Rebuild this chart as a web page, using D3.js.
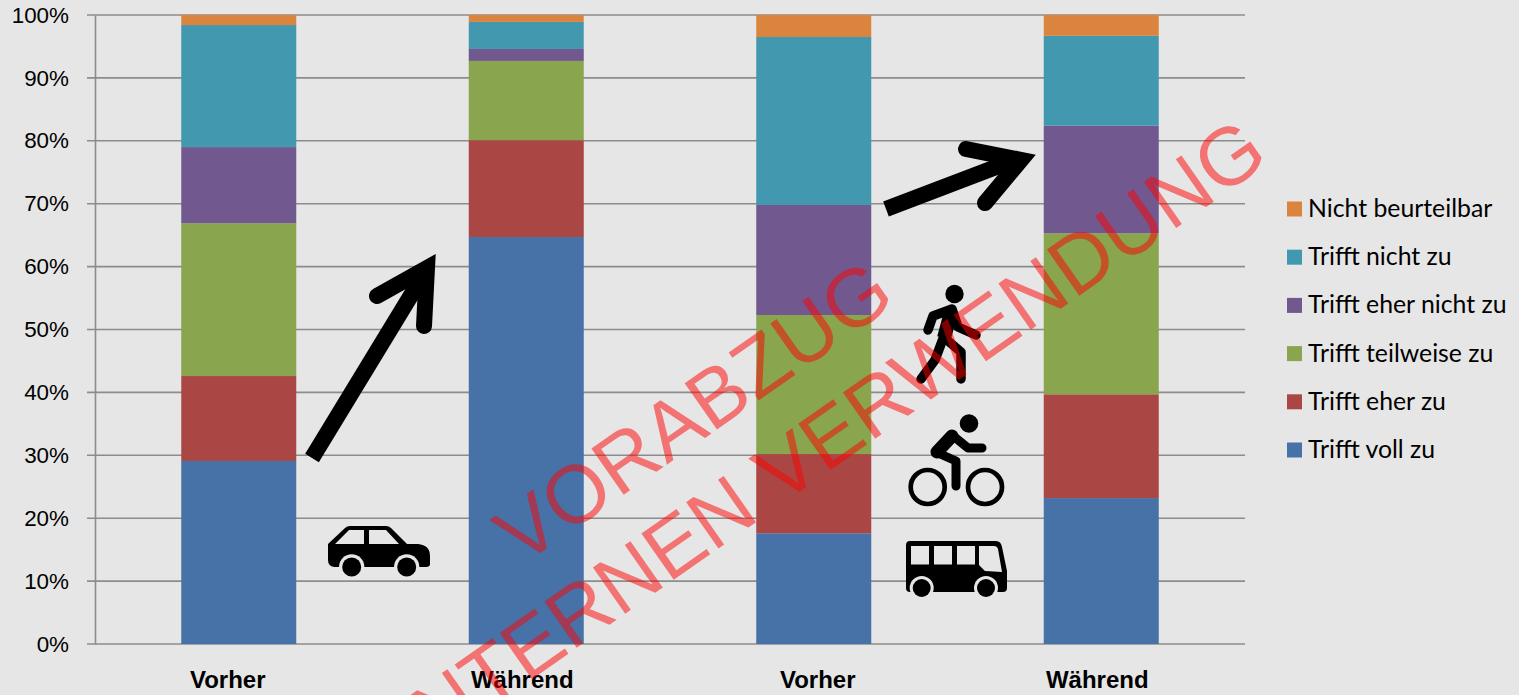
<!DOCTYPE html>
<html>
<head>
<meta charset="utf-8">
<script src="https://cdn.jsdelivr.net/npm/d3@7"></script>
<style>
html, body { margin: 0; padding: 0; background: #e6e6e6; overflow: hidden; }
svg { display: block; }
</style>
</head>
<body>
<div id="chart"></div>
<script>
const categories = ["Vorher 1", "Während 1", "Vorher 2", "Während 2"];
const categoryLabels = ["Vorher", "Während", "Vorher", "Während"];
const seriesNames = ["Trifft voll zu", "Trifft eher zu", "Trifft teilweise zu", "Trifft eher nicht zu", "Trifft nicht zu", "Nicht beurteilbar"];
const seriesColors = ["#4672a7", "#aa4644", "#89a54e", "#71588f", "#4198af", "#db843d"];

const trifftVollZu = [29.1, 64.7, 17.6, 23.2];
const trifftEherZu = [13.5, 15.4, 12.6, 16.5];
const trifftTeilweiseZu = [24.3, 12.6, 22.1, 25.6];
const trifftEherNichtZu = [12.1, 1.9, 17.5, 17.1];
const trifftNichtZu = [19.4, 4.3, 26.7, 14.3];
const nichtBeurteilbar = [1.6, 1.1, 3.5, 3.3];

const yTicks = [0, 10, 20, 30, 40, 50, 60, 70, 80, 90, 100];

const rows = categories.map((c, i) => ({
    category: c,
    "Trifft voll zu": trifftVollZu[i],
    "Trifft eher zu": trifftEherZu[i],
    "Trifft teilweise zu": trifftTeilweiseZu[i],
    "Trifft eher nicht zu": trifftEherNichtZu[i],
    "Trifft nicht zu": trifftNichtZu[i],
    "Nicht beurteilbar": nichtBeurteilbar[i]
}));

function initChart(selector) {
    const width = 1519, height = 695;
    const plot = {left: 95, right: 1245, top: 15, bottom: 644};

    const svg = d3.select(selector).append("svg")
        .attr("width", width)
        .attr("height", height)
        .style("background", "#e6e6e6");

    const xScale = d3.scaleBand()
        .domain(categories)
        .range([plot.left, plot.right])
        .paddingInner(0.6)
        .paddingOuter(0.3);

    const yScale = d3.scaleLinear()
        .domain([0, 100])
        .range([plot.bottom, plot.top]);

    // gridlines
    svg.append("g").selectAll("line")
        .data(yTicks)
        .join("line")
        .attr("x1", 87).attr("x2", plot.right)
        .attr("y1", d => yScale(d)).attr("y2", d => yScale(d))
        .attr("stroke", "#8c8c8c")
        .attr("stroke-width", 1.6);

    // left axis
    const yAxis = svg.append("g")
        .attr("transform", `translate(${plot.left},0)`)
        .call(d3.axisLeft(yScale).tickValues(yTicks).tickFormat(d => d + "%").tickSize(0).tickPadding(26));
    yAxis.select(".domain").attr("stroke", "#8c8c8c").attr("stroke-width", 1.6);
    yAxis.selectAll("text")
        .attr("fill", "#000")
        .style("font", "22.4px 'Liberation Sans', Arial, sans-serif");

    // stacked bars
    const stacked = d3.stack().keys(seriesNames)(rows);
    svg.append("g").selectAll("g")
        .data(stacked)
        .join("g")
        .attr("fill", (d, i) => seriesColors[i])
        .selectAll("rect")
        .data(d => d)
        .join("rect")
        .attr("x", d => xScale(d.data.category))
        .attr("width", xScale.bandwidth())
        .attr("y", d => yScale(d[1]))
        .attr("height", d => yScale(d[0]) - yScale(d[1]));

    // category labels, hand placed text boxes in the original so not quite centred
    const labelShift = [-11, -4, 4, -4];
    svg.append("g").selectAll("text")
        .data(categories)
        .join("text")
        .attr("x", (d, i) => xScale(d) + xScale.bandwidth() / 2 + labelShift[i])
        .attr("y", 688)
        .attr("text-anchor", "middle")
        .attr("font-family", "'Liberation Sans', Arial, sans-serif")
        .attr("font-weight", "bold")
        .attr("font-size", 24)
        .text((d, i) => categoryLabels[i]);

    // legend, top entry first
    const legendY = d3.scalePoint()
        .domain(seriesNames.slice().reverse())
        .range([209, 450]);
    const legend = svg.append("g").selectAll("g")
        .data(seriesNames)
        .join("g")
        .attr("transform", d => `translate(1287,${legendY(d)})`);
    legend.append("rect")
        .attr("y", -7.5).attr("width", 15).attr("height", 15)
        .attr("fill", (d, i) => seriesColors[i]);
    legend.append("text")
        .attr("x", 21)
        .attr("y", 8)
        .attr("font-family", "Lato, sans-serif")
        .attr("font-size", 24.8)
        .attr("fill", "#000")
        .text(d => d);

    drawArrows(svg);
    drawIcons(svg);
    drawWatermark(svg);
}

function drawArrows(svg) {
    const g = svg.append("g").attr("fill", "none").attr("stroke", "#000").attr("stroke-width", 16);
    g.append("path").attr("d", "M312,458 L424,274");
    g.append("path").attr("d", "M377,296 L427,268 L424,326").attr("stroke-linecap", "round");
    g.append("path").attr("d", "M886,209 L1020,158");
    g.append("path").attr("d", "M966,149 L1021,160 L985,203").attr("stroke-linecap", "round");
}

function drawIcons(svg) {
    // car
    const car = svg.append("g").attr("transform", "translate(328,526)");
    car.append("path").attr("fill-rule", "evenodd")
        .attr("d", "M0,18 L17,2 Q19,0 22,0 L58,0 Q61,0 63,2 L79,18 L90,18 Q102,19 102,30 L102,38 Q102,41 98,41 L6,41 Q0,40 0,34 Z M7,18 L36,18 L36,4 L21,4 Z M41,4 L41,18 L71,18 L58,4 Z");
    car.append("circle").attr("cx", 23.7).attr("cy", 41).attr("r", 12.7).attr("fill", "#e6e6e6");
    car.append("circle").attr("cx", 78.7).attr("cy", 41).attr("r", 12.7).attr("fill", "#e6e6e6");
    car.append("circle").attr("cx", 23.7).attr("cy", 41).attr("r", 9.5);
    car.append("circle").attr("cx", 78.7).attr("cy", 41).attr("r", 9.5);

    // walker
    const walk = svg.append("g").attr("transform", "translate(880,270)")
        .attr("fill", "none").attr("stroke", "#000").attr("stroke-width", 9.5)
        .attr("stroke-linecap", "round").attr("stroke-linejoin", "round");
    walk.append("circle").attr("cx", 74.5).attr("cy", 24).attr("r", 9.2).attr("fill", "#000").attr("stroke", "none");
    walk.append("path").attr("d", "M48,60 L53,46 L72,39 L78,57 L96,65");
    walk.append("path").attr("d", "M71,42 L64,68").attr("stroke-width", 14).attr("stroke-linecap", "butt");
    walk.append("path").attr("d", "M64,66 L55,90 L41,109");
    walk.append("path").attr("d", "M67,70 L81,82 L81,109");

    // cyclist
    const bike = svg.append("g").attr("transform", "translate(880,270)");
    bike.append("circle").attr("cx", 89).attr("cy", 153.5).attr("r", 9.3);
    bike.append("circle").attr("cx", 47.7).attr("cy", 217).attr("r", 17).attr("fill", "none").attr("stroke", "#000").attr("stroke-width", 4.7);
    bike.append("circle").attr("cx", 105).attr("cy", 217).attr("r", 17).attr("fill", "none").attr("stroke", "#000").attr("stroke-width", 4.7);
    bike.append("path")
        .attr("d", "M72,165 L88,178 L102,178 M58,183 L76,191 L76,216")
        .attr("fill", "none").attr("stroke", "#000").attr("stroke-width", 9)
        .attr("stroke-linecap", "round").attr("stroke-linejoin", "round");
    bike.append("path").attr("d", "M72,166 L57,182")
        .attr("fill", "none").attr("stroke", "#000").attr("stroke-width", 13).attr("stroke-linecap", "round");

    // bus
    const bus = svg.append("g").attr("transform", "translate(906,541)");
    bus.append("path").attr("fill-rule", "evenodd")
        .attr("d", "M4,0 L90,0 Q95,0 96,6 L101,30 L101,47 Q101,51 97,51 L4,51 Q0,51 0,47 L0,4 Q0,0 4,0 Z M5,5 L5,23.5 L23,23.5 L23,5 Z M28,5 L28,23.5 L46,23.5 L46,5 Z M51,5 L51,23.5 L69,23.5 L69,5 Z M73,5 L73,24 L79,30 L96,31 L92,8 Q91,5 88,5 Z");
    bus.append("circle").attr("cx", 15.7).attr("cy", 47).attr("r", 12).attr("fill", "#e6e6e6");
    bus.append("circle").attr("cx", 80).attr("cy", 47).attr("r", 12).attr("fill", "#e6e6e6");
    bus.append("circle").attr("cx", 15.7).attr("cy", 47).attr("r", 9);
    bus.append("circle").attr("cx", 80).attr("cy", 47).attr("r", 9);
}

function drawWatermark(svg) {
    const g = svg.append("g")
        .attr("font-family", "'Liberation Sans', Arial, sans-serif")
        .attr("fill", "#ff0000")
        .attr("fill-opacity", 0.5)
        .attr("text-anchor", "middle")
        .attr("font-size", 82);
    g.append("text").attr("transform", "translate(709.7,434.6) rotate(-35)").text("VORABZUG");
    g.append("text").attr("transform", "translate(844.9,459.9) rotate(-35)").text("INTERNEN VERWENDUNG");
}

document.addEventListener("DOMContentLoaded", function () {
    initChart("#chart");
});
</script>
</body>
</html>
